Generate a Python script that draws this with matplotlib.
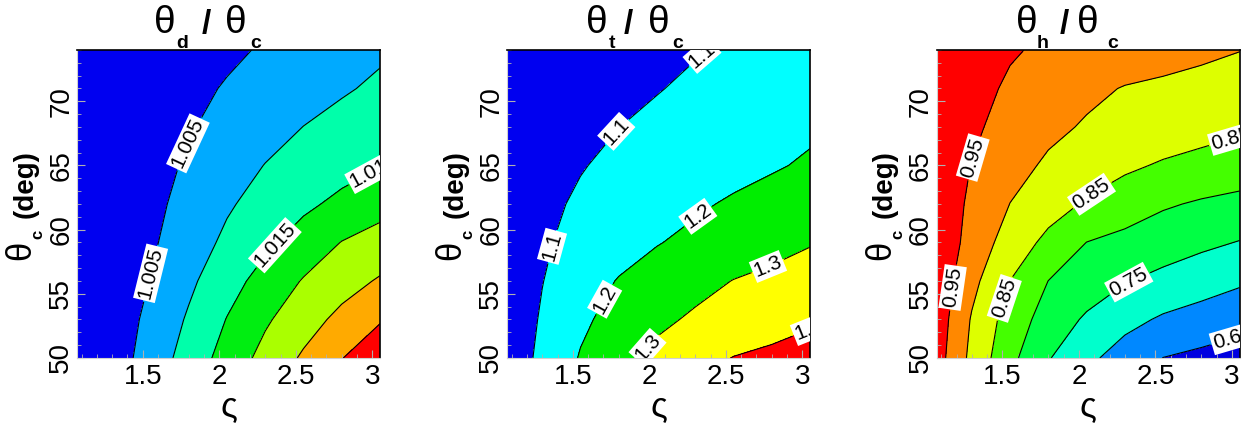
import numpy as np
import matplotlib
matplotlib.use("Agg")
import matplotlib.pyplot as plt
from matplotlib.ticker import MultipleLocator

plt.rcParams['font.family'] = ['Liberation Sans', 'DejaVu Sans']

# grid (zeta, theta_c in deg)
zeta = [1.07, 1.3, 1.55, 1.8, 2.05, 2.3, 2.55, 2.8, 3.05]
theta_c = [50, 53, 56, 59, 62, 65, 68, 71, 74]

# theta_d / theta_c
ratio_d = [
    [0.998, 1.0024, 1.00715, 1.012, 1.01696, 1.02156, 1.02567, 1.02983, 1.034],
    [0.998, 1.0019, 1.00627, 1.01056, 1.01517, 1.01933, 1.02292, 1.0263, 1.0295],
    [0.9975, 1.0012, 1.00516, 1.00906, 1.01306, 1.01686, 1.02033, 1.02304, 1.0255],
    [0.9978, 1.001, 1.0043, 1.00767, 1.01093, 1.01401, 1.01713, 1.02014, 1.02186],
    [0.9983, 1.0009, 1.00375, 1.00659, 1.00943, 1.01179, 1.01402, 1.01618, 1.0183],
    [0.9989, 1.001, 1.0033, 1.0056, 1.00789, 1.01012, 1.01168, 1.01324, 1.0148],
    [0.9993, 1.001, 1.0028, 1.00464, 1.00645, 1.00826, 1.01005, 1.01143, 1.0128],
    [0.99985, 1.00114, 1.00254, 1.00394, 1.00533, 1.00672, 1.00811, 1.0095, 1.0108],
    [0.9998, 1.00086, 1.002, 1.0031, 1.00424, 1.00542, 1.00672, 1.00802, 1.0093],
]

# theta_t / theta_c
ratio_t = [
    [1.04, 1.1215, 1.2065, 1.2739, 1.325, 1.3657, 1.4027, 1.42, 1.437],
    [1.041, 1.1088, 1.1824, 1.2345, 1.28, 1.3138, 1.3383, 1.3629, 1.3875],
    [1.047, 1.0978, 1.1533, 1.2053, 1.2382, 1.2711, 1.3023, 1.3211, 1.34],
    [1.058, 1.0901, 1.1254, 1.1606, 1.1958, 1.2214, 1.2458, 1.2701, 1.2945],
    [1.06, 1.084, 1.1098, 1.1358, 1.1617, 1.1876, 1.2109, 1.232, 1.253],
    [1.06, 1.0773, 1.0962, 1.1152, 1.1341, 1.153, 1.172, 1.1909, 1.2117],
    [1.056, 1.069, 1.0844, 1.0994, 1.1164, 1.1336, 1.1507, 1.1678, 1.185],
    [1.0475, 1.059, 1.0715, 1.084, 1.0965, 1.1131, 1.1314, 1.1496, 1.168],
    [1.046, 1.055, 1.065, 1.075, 1.085, 1.095, 1.1103, 1.13, 1.15],
]

# theta_h / theta_c
ratio_h = [
    [0.9718, 0.8871, 0.8131, 0.7532, 0.7114, 0.6783, 0.6494, 0.6387, 0.628],
    [0.9779, 0.8958, 0.8278, 0.7788, 0.7432, 0.7148, 0.6936, 0.6803, 0.667],
    [0.9833, 0.9136, 0.8496, 0.7996, 0.7764, 0.7528, 0.7368, 0.7218, 0.7068],
    [0.9897, 0.9308, 0.8783, 0.8375, 0.7995, 0.7863, 0.7732, 0.76, 0.748],
    [0.9805, 0.9415, 0.8994, 0.8707, 0.8445, 0.825, 0.8055, 0.7946, 0.787],
    [0.9775, 0.9488, 0.9175, 0.8925, 0.8753, 0.8582, 0.845, 0.8353, 0.8256],
    [0.9787, 0.9574, 0.9343, 0.9111, 0.8952, 0.8858, 0.8765, 0.8672, 0.8579],
    [0.9779, 0.9621, 0.9448, 0.9276, 0.9103, 0.8976, 0.8916, 0.8855, 0.8795],
    [0.9775, 0.966, 0.9535, 0.9438, 0.9353, 0.9267, 0.9181, 0.9095, 0.901],
]

levels_d = [0.99, 1.005, 1.01, 1.015, 1.02, 1.025, 1.03, 1.04]
levels_t = [1.0, 1.1, 1.2, 1.3, 1.4, 1.5]
levels_h = [0.6, 0.65, 0.7, 0.75, 0.8, 0.85, 0.9, 0.95, 1.0]

colors_d = ['#0000f0', '#00aaff', '#00ffaa', '#00ee11', '#aaff00', '#ffaa00', '#ff0000']
colors_t = ['#0000f0', '#00ffff', '#00ee00', '#ffff00', '#ff0000']
colors_h = ['#0000e0', '#0088ff', '#00ffcc', '#00ff44', '#44ff00', '#ddff00', '#ff8800', '#ff0000']

# where the contour labels sit (zeta, theta_c)
labelpos_d = [(1.82, 66.6), (1.55, 56.6), (2.38, 58.6), (3.01, 64.6)]
labelpos_t = [(1.79, 67.6), (1.40, 58.6), (2.36, 73.4), (2.29, 61.5),
              (1.72, 54.5), (2.77, 57.3), (2.01, 50.6), (3.04, 52.3)]
labelpos_h = [(1.31, 65.6), (1.17, 55.5), (2.08, 62.8), (1.55, 54.5),
              (3.0, 66.9), (2.34, 55.5), (3.0, 51.8)]

subs = ['d', 't', 'h']
title_x = [(0.29, 0.347, 0.426, 0.525, 0.59),
           (0.297, 0.347, 0.40, 0.5, 0.564),
           (0.297, 0.351, 0.422, 0.5, 0.58)]

fig = plt.figure(figsize=(12.5, 4.28), dpi=100)
lefts = [0.0616, 0.4056, 0.7493]
X, Y = np.meshgrid(zeta, theta_c)

panels = [(ratio_d, levels_d, colors_d, labelpos_d),
          (ratio_t, levels_t, colors_t, labelpos_t),
          (ratio_h, levels_h, colors_h, labelpos_h)]

for i, (Z, lev, cols, lpos) in enumerate(panels):
    ax = fig.add_axes([lefts[i], 0.1636, 0.2424, 0.7196])
    Z = np.array(Z)
    ax.contourf(X, Y, Z, levels=lev, colors=cols)
    cs = ax.contour(X, Y, Z, levels=lev[1:-1], colors='k', linewidths=0.8)
    txts = ax.clabel(cs, fmt='%g', manual=lpos, inline=True, inline_spacing=3, fontsize=15)
    for t in txts:
        t.set_bbox(dict(facecolor='white', edgecolor='none', pad=1.2))
        t.set_clip_on(True)

    ax.set_xlim(1.07, 3.05)
    ax.set_ylim(50, 74)
    ax.set_xticks([1.5, 2, 2.5, 3])
    ax.set_xticklabels(['1.5', '2', '2.5', '3'])
    ax.set_yticks([50, 55, 60, 65, 70])
    ax.xaxis.set_minor_locator(MultipleLocator(0.1))
    ax.yaxis.set_minor_locator(MultipleLocator(1))
    ax.tick_params(which='both', direction='in', color='#b0b0b0', labelsize=20)
    ax.tick_params(axis='x', pad=4)
    ax.tick_params(axis='y', pad=2)
    ax.tick_params(which='major', length=6)
    ax.tick_params(which='minor', length=3)
    for lbl in ax.get_yticklabels():
        lbl.set_rotation(90)
        lbl.set_va('center')
    for s in ['top', 'right']:
        ax.spines[s].set_color('k')
        ax.spines[s].set_linewidth(1.2)
    for s in ['left', 'bottom']:
        ax.spines[s].set_color('#d0d0d0')

    ax.set_xlabel('ς', fontsize=25, labelpad=0)

    # y label: theta with dropped subscript c
    ax.text(-0.185, 0.35, 'θ', transform=ax.transAxes, rotation=90,
            ha='center', va='center', fontsize=25)
    ax.text(-0.128, 0.40, 'c', transform=ax.transAxes, rotation=90,
            ha='center', va='center', fontsize=12, fontweight='bold')
    ax.text(-0.17, 0.565, '(deg)', transform=ax.transAxes, rotation=90,
            ha='center', va='center', fontsize=20, fontweight='bold')

    # title: theta_x / theta_c, subscripts dropped to the frame
    tx = title_x[i]
    ax.text(tx[0], 1.055, 'θ', transform=ax.transAxes, ha='center', va='baseline', fontsize=28)
    ax.text(tx[1], 1.006, subs[i], transform=ax.transAxes, ha='center', va='baseline',
            fontsize=14, fontweight='bold')
    ax.text(tx[2], 1.055, '/', transform=ax.transAxes, ha='center', va='baseline',
            fontsize=24, fontweight='bold')
    ax.text(tx[3], 1.055, 'θ', transform=ax.transAxes, ha='center', va='baseline', fontsize=28)
    ax.text(tx[4], 1.006, 'c', transform=ax.transAxes, ha='center', va='baseline',
            fontsize=14, fontweight='bold')

fig.savefig('out.png', dpi=100)
